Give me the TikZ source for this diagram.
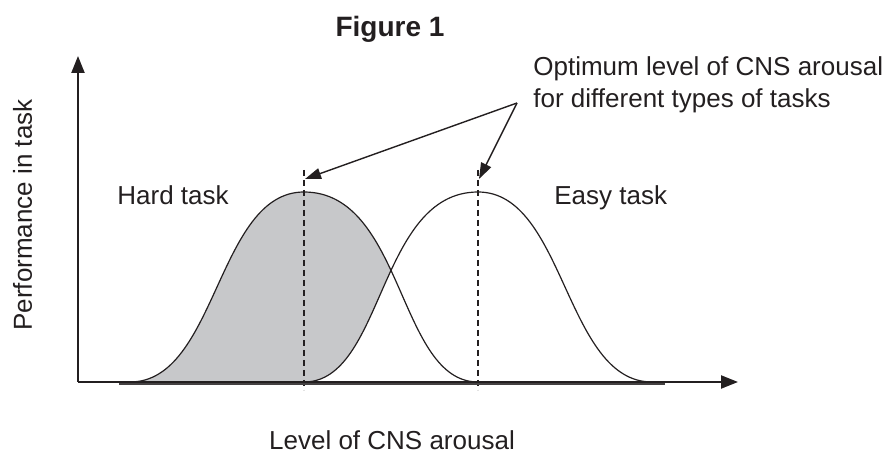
\documentclass[tikz,border=0pt]{standalone}
\usepackage{fontspec}
\setmainfont{Liberation Sans}
\usepackage{tikz}
\usetikzlibrary{arrows.meta}
\definecolor{inkdark}{HTML}{231F20}
\definecolor{shadegray}{HTML}{C7C8CA}

\begin{document}
\begin{tikzpicture}[
		x=0.5pt,
		y=-0.5pt,
		font=\fontsize{13}{16}\selectfont,
		axisline/.style={draw=inkdark, line width=1.1pt, -{Triangle[length=8.5pt,width=6.5pt]}},
		bellcurve/.style={draw=inkdark, line width=0.6pt},
		optline/.style={draw=inkdark, dash pattern=on 3pt off 2pt, line width=0.6pt},
		callout/.style={draw=inkdark, line width=0.7pt, -{Triangle[length=8pt,width=5.5pt]}},
		txt/.style={inner sep=0pt, text=inkdark}
		]
		\path[use as bounding box] (0,0) rectangle (890,454);
		
		% Reference points
		\coordinate (origin) at (78,382);
		\coordinate (ytop) at (78,56);
		\coordinate (xend) at (738,382);
		\coordinate (hardpeak) at (304,192);
		\coordinate (easypeak) at (478,192);
		\coordinate (hardtop) at (304,170);
		\coordinate (hardbot) at (304,390);
		\coordinate (easytop) at (478,170);
		\coordinate (easybot) at (478,390);
		\coordinate (hardtip) at (305,179);
		\coordinate (easytip) at (479,179);
		\coordinate (fork) at (517,103);
		
		% Shaded area under the hard task curve
		\fill[shadegray] (130,382) .. controls (217,382) and (217,192) .. (hardpeak)
			.. controls (404,192) and (398,382) .. (478,382) -- cycle;
		\fill[white] (304,382) .. controls (384,382) and (378,192) .. (easypeak)
			.. controls (565,192) and (565,382) .. (652,382) -- cycle;
		
		% Curves
		\draw[bellcurve] (130,382) .. controls (217,382) and (217,192) .. (hardpeak)
			.. controls (404,192) and (398,382) .. (478,382);
		\draw[bellcurve] (304,382) .. controls (384,382) and (378,192) .. (easypeak)
			.. controls (565,192) and (565,382) .. (652,382);
		
		% Optimum levels
		\draw[optline] (hardtop) -- (hardbot);
		\draw[optline] (easytop) -- (easybot);
		
		% Axes
		\draw[inkdark!85, line width=1.4pt] (119,384) -- (665,384);
		\draw[axisline] (origin) -- (ytop);
		\draw[axisline] (origin) -- (xend);
		
		% Labels
		\node[txt, anchor=base, font=\fontsize{14}{16}\selectfont\bfseries] (title) at (390,37) {Figure 1};
		\node[txt, anchor=north west, align=left] (optimum) at (533,56) {Optimum level of CNS arousal\\for different types of tasks};
		\node[txt, anchor=base west] (hard) at (117,205) {Hard task};
		\node[txt, anchor=base west] (easy) at (554,205) {Easy task};
		\node[txt, anchor=base] (xlabel) at (392,450) {Level of CNS arousal};
		\node[txt, anchor=base, rotate=90] (ylabel) at (32,215) {Performance in task};
		
		% Pointers
		\draw[callout] (fork) -- (hardtip);
		\draw[callout] (fork) -- (easytip);
	\end{tikzpicture}
\end{document}
